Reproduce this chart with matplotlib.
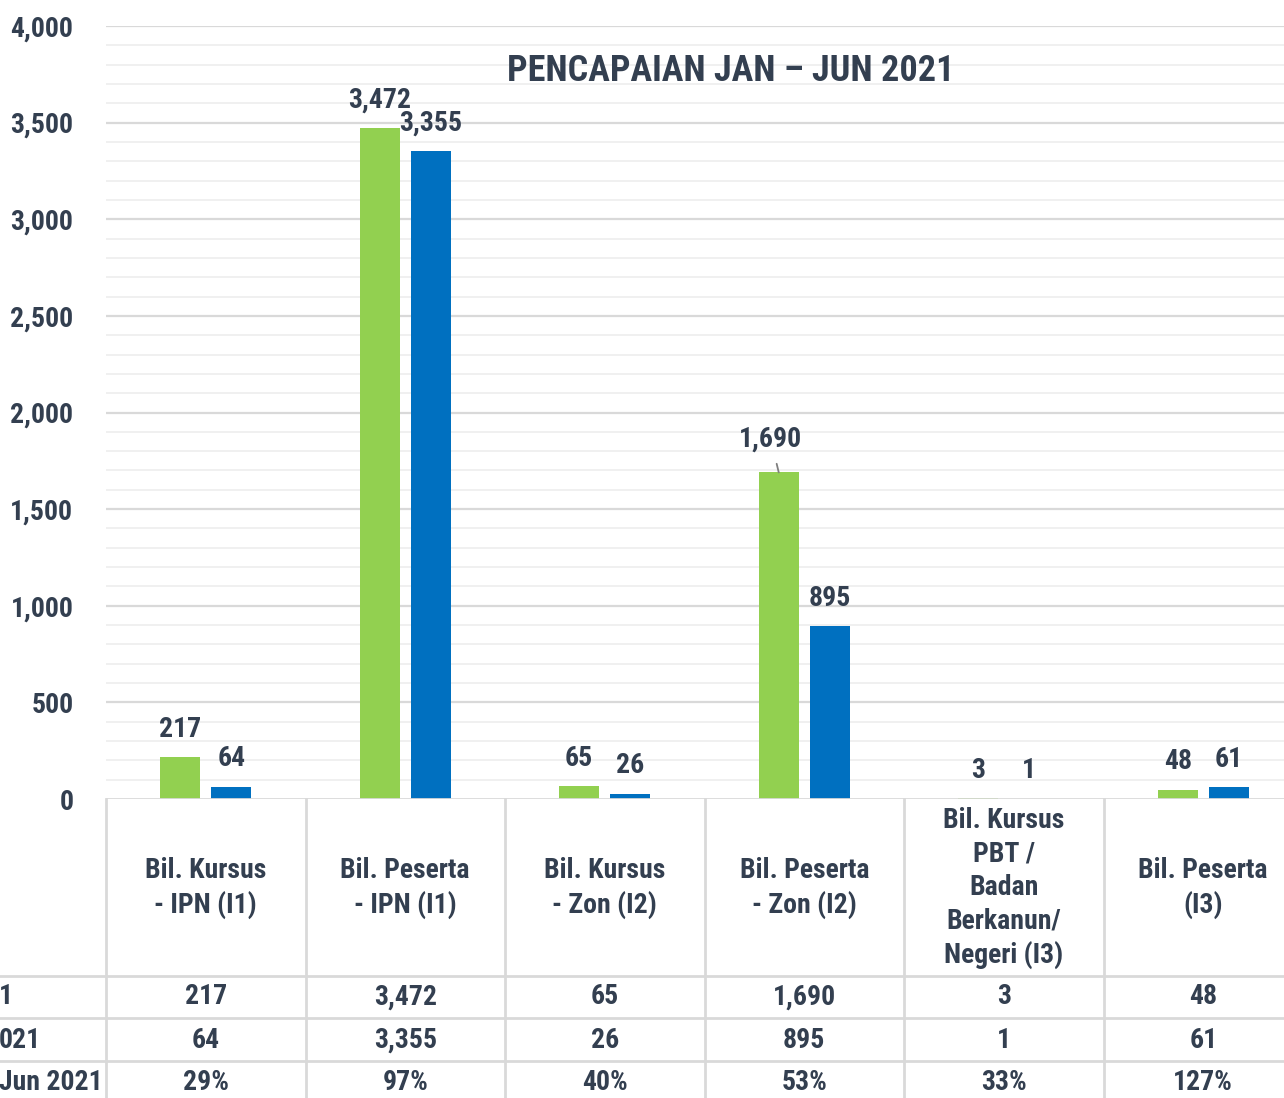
import matplotlib
matplotlib.use("Agg")
import matplotlib.pyplot as plt
import matplotlib.transforms as mtransforms
from matplotlib import font_manager
import numpy as np

# ---- data ----
categories = ["Bil. Kursus\n- IPN (I1)", "Bil. Peserta\n- IPN (I1)", "Bil. Kursus\n- Zon (I2)",
              "Bil. Peserta\n- Zon (I2)", "Bil. Kursus\nPBT /\nBadan\nBerkanun/\nNegeri (I3)",
              "Bil. Peserta\n(I3)"]
target = [217, 3472, 65, 1690, 3, 48]
achieved = [64, 3355, 26, 895, 1, 61]
percent = ["29%", "97%", "40%", "53%", "33%", "127%"]
row_labels = ["1", "021", "Jun 2021"]
yticks = [0, 500, 1000, 1500, 2000, 2500, 3000, 3500, 4000]
title = "PENCAPAIAN JAN – JUN 2021"

candidates = ['Arial Narrow', 'Liberation Sans Narrow', 'Roboto Condensed', 'PT Sans Narrow',
              'Archivo Narrow', 'Asap Condensed', 'Barlow Semi Condensed', 'Liberation Sans']
fam = 'DejaVu Sans'
for c in candidates:
    if any(f.name == c and f.weight in (700, 'bold') for f in font_manager.fontManager.ttflist):
        fam = c
        break
plt.rcParams['font.family'] = [fam, 'DejaVu Sans']
plt.rcParams['font.weight'] = 'bold'

TXT = "#333F50"
GREEN = "#92D050"
BLUE = "#0070C0"
GRID_MAJ = "#D9D9D9"
GRID_MIN = "#F0F0F0"

W, H = 1284, 1098
fig = plt.figure(figsize=(W / 100, H / 100), dpi=100)

def fx(px):
    return px / W

def fy(px):
    return 1 - px / H

ax_left, ax_top, ax_bot = 106, 26, 799
cat_w = 199.5
ax = fig.add_axes([fx(ax_left), fy(ax_bot), fx(cat_w * 6), (ax_bot - ax_top) / H])
ax.set_xlim(-0.5, 5.5)
ax.set_ylim(0, 4000)
for s in ax.spines.values():
    s.set_visible(False)

x = np.arange(len(categories))
bw = 40 / cat_w
off = 25.5 / cat_w

FS = 20

# gridlines
for v in range(100, 4001, 100):
    major = (v % 500 == 0)
    ax.axhline(v, color=GRID_MAJ if major else GRID_MIN, lw=1.6 if major else 1.4, zorder=0)
ax.axhline(0, color=GRID_MAJ, lw=2, zorder=3)

ax.bar(x - off, target, width=bw, color=GREEN, zorder=2)
ax.bar(x + off, achieved, width=bw, color=BLUE, zorder=2)

ax.set_yticks(yticks)
ax.set_yticklabels([f"{v:,}" for v in yticks], fontsize=FS, color=TXT, fontweight='bold')
ax.tick_params(axis='y', length=0, pad=23.5)
ax.set_xticks([])

# data labels
for i in range(len(categories)):
    for val, xc in ((target[i], x[i] - off), (achieved[i], x[i] + off)):
        if val == 1690:
            ax.annotate(f"{val:,}", xy=(xc, val), xytext=(-8, 33), textcoords='offset pixels',
                        ha='center', va='center', fontsize=FS, color=TXT, fontweight='bold',
                        arrowprops=dict(arrowstyle='-', color='#7F7F7F', lw=1.3,
                                        shrinkA=6, shrinkB=0))
        else:
            ax.annotate(f"{val:,}", xy=(xc, val), xytext=(0, 28), textcoords='offset pixels',
                        ha='center', va='center', fontsize=FS, color=TXT, fontweight='bold')

# title
fig.text(fx(731), fy(71), title, ha='center', va='center', fontsize=26, color=TXT,
         fontweight='bold')

# ---- table ----
tr = mtransforms.blended_transform_factory(ax.transData, fig.transFigure)
tfig = fig.transFigure
row_lines = [976, 1018, 1061]
for yl in row_lines:
    fig.add_artist(plt.Line2D([0, 1], [fy(yl), fy(yl)], color=GRID_MAJ, lw=2, transform=tfig))
for b in np.arange(-0.5, 6.0, 1.0):
    fig.add_artist(plt.Line2D([b, b], [fy(799), fy(H + 5)], color=GRID_MAJ, lw=2, transform=tr,
                              clip_on=False))

for i, c in enumerate(categories):
    fig.text(x[i], fy(888), c, transform=tr, ha='center', va='center', fontsize=FS,
             color=TXT, fontweight='bold', linespacing=1.3)
    fig.text(x[i], fy(997), f"{target[i]:,}", transform=tr, ha='center', va='center',
             fontsize=FS, color=TXT, fontweight='bold')
    fig.text(x[i], fy(1040), f"{achieved[i]:,}", transform=tr, ha='center', va='center',
             fontsize=FS, color=TXT, fontweight='bold')
    fig.text(x[i], fy(1082), percent[i], transform=tr, ha='center', va='center',
             fontsize=FS, color=TXT, fontweight='bold')

for lbl, yy in zip(row_labels, [997, 1040, 1082]):
    fig.text(fx(-1), fy(yy), lbl, ha='left', va='center', fontsize=FS, color=TXT,
             fontweight='bold')

fig.savefig("out.png", dpi=100, facecolor='white')
